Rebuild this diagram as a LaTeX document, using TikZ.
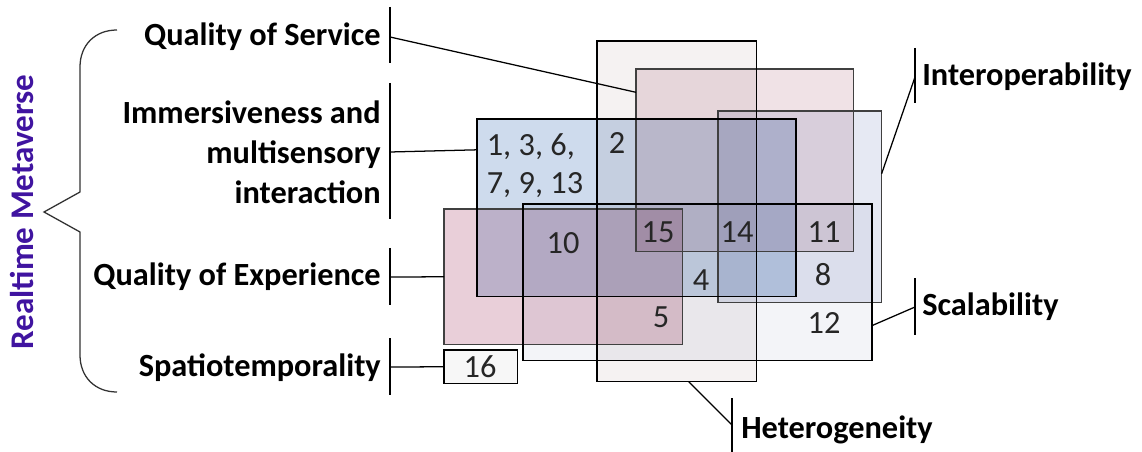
\documentclass[tikz,border=0pt]{standalone}
\usepackage{fontspec}
\setmainfont{Carlito}
\usetikzlibrary{positioning}
\definecolor{hetfill}{RGB}{245,242,242}
\definecolor{qosfill}{RGB}{240,226,230}
\definecolor{interfill}{RGB}{230,233,243}
\definecolor{immerfill}{RGB}{206,219,237}
\definecolor{scalfill}{RGB}{243,244,248}
\definecolor{qoefill}{RGB}{233,207,217}
\definecolor{spatfill}{RGB}{247,247,247}
\definecolor{numgray}{RGB}{38,38,38}
\definecolor{metapurple}{RGB}{64,20,160}
\tikzstyle{region} = [draw=none, inner sep=0pt, anchor=north west]
\tikzstyle{edge} = [draw, line width=1.2pt]
\tikzstyle{softedge} = [draw=black!75, line width=1.2pt]
\tikzstyle{line} = [draw, line width=0.9pt]
\tikzstyle{num} = [text=numgray, inner sep=0pt, font=\fontsize{23}{27}\selectfont]
\tikzstyle{critlabel} = [inner sep=0pt, font=\fontsize{23}{28.5}\selectfont\bfseries]

\begin{document}
\begin{tikzpicture}[x=0.025cm, y=-0.025cm]
	\useasboundingbox (0,0) rectangle (1142,452);

	% regions, multiplied so overlaps darken
	\begin{scope}[blend mode=multiply]
		\node [region, fill=qosfill, minimum width=5.425cm, minimum height=4.55cm] (qos) at (636,69) {};
		\node [region, fill=interfill, minimum width=4.075cm, minimum height=4.775cm] (inter) at (718,111) {};
		\node [region, fill=qoefill, minimum width=5.95cm, minimum height=3.375cm] (qoe) at (444,209) {};
		\node [region, fill=hetfill, minimum width=3.975cm, minimum height=8.5cm] (het) at (597,41) {};
		\node [region, fill=immerfill, minimum width=7.95cm, minimum height=4.425cm] (immer) at (477,119) {};
		\node [region, fill=scalfill, minimum width=8.7cm, minimum height=3.9cm] (scal) at (523,204) {};
		\node [region, fill=spatfill, minimum width=1.825cm, minimum height=0.825cm] (spat) at (444,350) {};
	\end{scope}

	% borders
	\path [softedge] (qos.north west) rectangle (qos.south east);
	\path [softedge] (inter.north west) rectangle (inter.south east);
	\path [softedge] (qoe.north west) rectangle (qoe.south east);
	\path [edge] (het.north west) rectangle (het.south east);
	\path [edge] (immer.north west) rectangle (immer.south east);
	\path [edge] (scal.north west) rectangle (scal.south east);
	\path [edge] (spat.north west) rectangle (spat.south east);

	% paper numbers
	\node [num, align=left] (n1) at (535,166) {1, 3, 6,\\7, 9, 13};
	\node [num] (n2) at (617,143) {2};
	\node [num] (n10) at (563,243) {10};
	\node [num] (n15) at (658,232) {15};
	\node [num] (n14) at (737,232) {14};
	\node [num] (n11) at (824,232) {11};
	\node [num] (n4) at (701,280) {4};
	\node [num] (n8) at (823,275) {8};
	\node [num] (n5) at (661,317) {5};
	\node [num] (n12) at (824,323) {12};
	\node [num] (n16) at (480,367) {16};

	% requirement labels
	\node [critlabel, anchor=east] (qoslab) at (381,37) {Quality of Service};
	\node [critlabel, anchor=east, align=right] (immerlab) at (381,152) {Immersiveness and\\multisensory\hspace*{0.25em}\\interaction};
	\node [critlabel, anchor=east] (qoelab) at (381,277) {Quality of Experience};
	\node [critlabel, anchor=east] (spatlab) at (381,368) {Spatiotemporality};
	\node [critlabel, anchor=west] (interlab) at (922,77) {Interoperability};
	\node [critlabel, anchor=west] (scallab) at (922,307) {Scalability};
	\node [critlabel, anchor=west] (hetlab) at (741,430) {Heterogeneity};
	\node [inner sep=0pt, rotate=90, text=metapurple, font=\fontsize{23.5}{25}\selectfont\bfseries] (meta) at (22,212) {Realtime Metaverse};

	% ticks
	\coordinate (qostick) at (390,37);
	\coordinate (immertick) at (390,152);
	\coordinate (qoetick) at (390,277);
	\coordinate (spattick) at (390,367);
	\coordinate (intertick) at (915,77);
	\coordinate (scaltick) at (915,307);
	\coordinate (hettick) at (732,425);
	\path [line] (390,7) -- (390,63);
	\path [line] (390,83) -- (390,219);
	\path [line] (390,248) -- (390,305);
	\path [line] (390,338) -- (390,395);
	\path [line] (915,48) -- (915,103);
	\path [line] (915,278) -- (915,335);
	\path [line] (732,398) -- (732,452);

	% connectors
	\path [line] (qostick) -- (qos.148.7);
	\path [line] (immertick) -- (immer.160.8);
	\path [line] (qoetick) -- (qoe.west);
	\path [line] (spattick) -- (spat.west);
	\path [line] (intertick) -- (inter.22.3);
	\path [line] (scaltick) -- (scal.-14.2);
	\path [line] (hettick) -- (het.-86.1);

	% brace
	\path [draw=black!80, line width=0.9pt] (117,30) .. controls (95,30) and (80,45) .. (80,67) -- (80,192) -- (44,212) -- (80,232) -- (80,355) .. controls (80,377) and (95,392) .. (117,392);
\end{tikzpicture}
\end{document}
